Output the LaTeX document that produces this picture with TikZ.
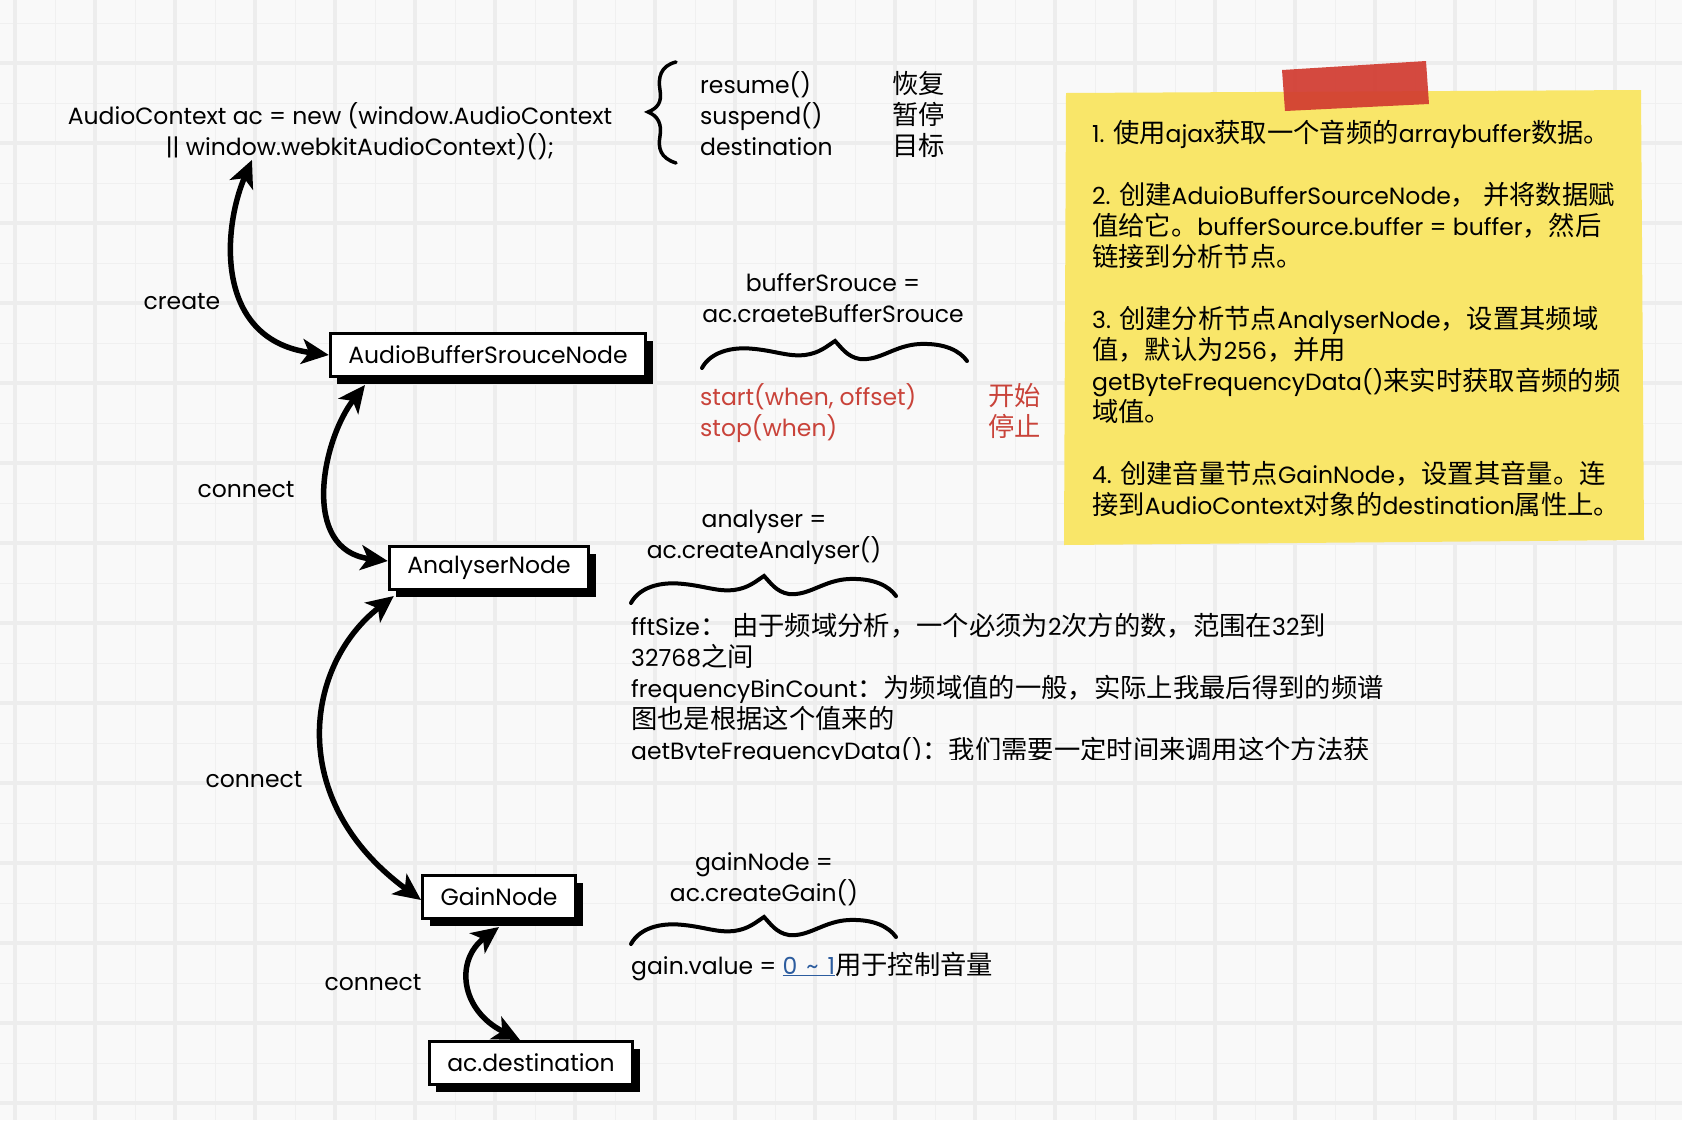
\documentclass[tikz,border=0pt]{standalone}
\usepackage{fontspec}
\setmainfont{Poppins}
\newfontfamily\cjk{Noto Sans CJK SC}[Scale=1.12]
\usepackage{xcolor}
\usepackage{tikz}
\usetikzlibrary{arrows.meta, positioning, shadows, calc}
\definecolor{paperbg}{HTML}{F9F9F9}
\definecolor{gridmajor}{HTML}{EDEDED}
\definecolor{gridminor}{HTML}{F0F0F0}
\definecolor{noteyellow}{HTML}{F9E669}
\definecolor{tapered}{HTML}{D13B30}
\definecolor{methodred}{HTML}{C9433A}
\definecolor{rangeblue}{HTML}{2C5C9E}
\newcommand{\zh}[1]{{\cjk #1}}

\begin{document}
\begin{tikzpicture}[
    x=1pt, y=-1pt,
    every node/.style={font=\fontsize{23.5}{31}\selectfont, inner sep=0pt, text=black},
    audionode/.style={rectangle, draw=black, line width=3pt, fill=white,
                      inner xsep=18pt, minimum height=43pt,
                      general shadow={fill=black, shadow xshift=7pt, shadow yshift=-7pt}},
    codetext/.style={align=center},
    plaintext/.style={align=left, anchor=north west},
    link/.style={{Stealth[length=27pt, width=25pt, inset=7pt]}-{Stealth[length=27pt, width=25pt, inset=7pt]},
                 line width=5.5pt},
    wavy/.pic={
        \draw[line width=4pt, line cap=round]
            (-133,27) .. controls (-125,12) and (-105,5) .. (-80,8)
            .. controls (-60,10) and (-45,16) .. (-30,14)
            .. controls (-15,12) and (-8,5) .. (0,0)
            .. controls (6,6) and (12,16) .. (25,18)
            .. controls (45,20) and (60,4) .. (85,3)
            .. controls (110,2) and (125,10) .. (132,20);
    }
]
\useasboundingbox (0,0) rectangle (1682,1120);

% Paper and grid
\fill[paperbg] (0,0) rectangle (1682,1120);
\foreach \gx in {55,135,...,1655}
    \draw[gridminor, line width=1pt] (\gx,0) -- (\gx,1120);
\foreach \gy in {23,103,...,1063}
    \draw[gridminor, line width=1pt] (0,\gy) -- (1682,\gy);
\foreach \gx in {15,95,...,1615}
    \draw[gridmajor, line width=3.5pt] (\gx,0) -- (\gx,1120);
\foreach \gy in {63,143,...,1103}
    \draw[gridmajor, line width=3.5pt] (0,\gy) -- (1682,\gy);

% AudioContext creation
\node[codetext] at (340,131) (ctx) {AudioContext ac = new (window.AudioContext\\\hspace*{40pt}\textbar\textbar{} window.webkitAudioContext)();};
\draw[line width=3.5pt, line cap=round]
    (676,62) .. controls (660,66) and (658,78) .. (660,90)
    .. controls (662,102) and (658,108) .. (648,112)
    .. controls (658,116) and (662,124) .. (660,136)
    .. controls (658,148) and (660,158) .. (676,163);
\node[plaintext] at (700,71) (ctxmethods) {resume()\\suspend()\\destination};
\node[plaintext] at (892,71) (ctxnotes) {\zh{恢复}\\\zh{暂停}\\\zh{目标}};

% Audio graph
\node[audionode] at (488,355) (bufsrc) {AudioBufferSrouceNode};
\node[audionode] at (489,568) (analyser) {AnalyserNode};
\node[audionode] at (499,897) (gain) {GainNode};
\node[audionode] at (531,1063) (dest) {ac.destination};

% Connectors
\draw[link] ([xshift=-88pt]ctx.south) .. controls (222,230) and (215,340) .. (bufsrc.west);
\draw[link] ([xshift=-123pt, yshift=-7pt]bufsrc.south) .. controls (322,440) and (300,550) .. ([yshift=7pt]analyser.west);
\draw[link] ([xshift=6pt, yshift=-5pt]analyser.south west) .. controls (305,665) and (285,800) .. ([yshift=-3pt]gain.west);
\draw[link] ([yshift=-7pt]gain.south) .. controls (455,960) and (460,1010) .. ([xshift=-11pt]dest.north);

\node at (182,302) (lcreate) {create};
\node at (246,490) (lconnect1) {connect};
\node at (254,780) (lconnect2) {connect};
\node at (373,983) (lconnect3) {connect};

% Buffer source notes
\node[codetext] at (833,298) (srcdef) {bufferSrouce =\\ac.craeteBufferSrouce};
\pic at (835,341) {wavy};
\node[plaintext, text=methodred] at (700,383) (srcmethods) {start(when, offset)\\stop(when)};
\node[plaintext, text=methodred] at (988,383) (srcnotes) {\zh{开始}\\\zh{停止}};

% Analyser notes
\node[codetext] at (764,537) (anadef) {analyser =\\ac.createAnalyser()};
\pic at (764,576) {wavy};
\begin{scope}
    \clip (600,590) rectangle (1420,759);
    \node[plaintext] at (631,613) (anaprops) {fftSize\zh{： 由于频域分析，一个必须为}2\zh{次方的数，范围在}32\zh{到}\\32768\zh{之间}\\frequencyBinCount\zh{：为频域值的一般，实际上我最后得到的频谱}\\\zh{图也是根据这个值来的}\\getByteFrequencyData()\zh{：我们需要一定时间来调用这个方法获}};
\end{scope}

% Gain notes
\node[codetext] at (764,879) (gaindef) {gainNode =\\ac.createGain()};
\pic at (764,917) {wavy};
\node[anchor=base west] at (631,974) (gainrange) {gain.value = \textcolor{rangeblue}{\underline{0\hspace*{9pt}\textasciitilde\hspace*{9pt}1}}\zh{用于控制音量}};

% Sticky note
\fill[noteyellow] (1066,93) -- (1641,90) -- (1644,540) -- (1064,545) -- cycle;
\fill[tapered, opacity=0.92] (1282,70) -- (1426,61) -- (1429,104) -- (1285,111) -- cycle;
\node[plaintext] at (1092,120) (steps) {%
1. \zh{使用}ajax\zh{获取一个音频的}arraybuffer\zh{数据。}\\[31pt]
2. \zh{创建}AduioBufferSourceNode\zh{， 并将数据赋}\\
\zh{值给它。}bufferSource.buffer = buffer\zh{，然后}\\
\zh{链接到分析节点。}\\[31pt]
3. \zh{创建分析节点}AnalyserNode\zh{，设置其频域}\\
\zh{值，默认为}256\zh{，并用}\\
getByteFrequencyData()\zh{来实时获取音频的频}\\
\zh{域值。}\\[31pt]
4. \zh{创建音量节点}GainNode\zh{，设置其音量。连}\\
\zh{接到}AudioContext\zh{对象的}destination\zh{属性上。}};

\end{tikzpicture}
\end{document}
